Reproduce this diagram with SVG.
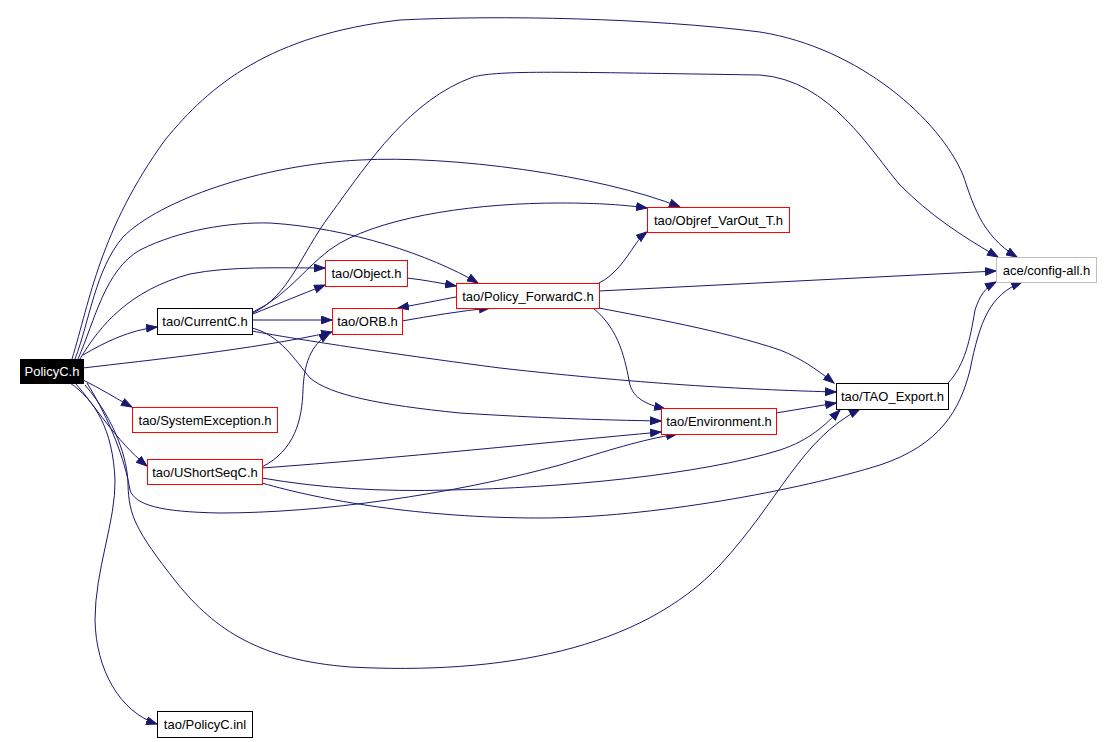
<svg xmlns="http://www.w3.org/2000/svg" width="1112" height="742" viewBox="0 0 1112 742">
<style>
.n rect{fill:#ffffff;stroke-width:1}
.n text{font-family:"Liberation Sans",Arial,sans-serif;font-size:13px;text-anchor:middle;fill:#000}
.red rect{stroke:#ff0000}
.blk rect{stroke:#000000}
.gry rect{stroke:#bfbfbf}
.e path{fill:none;stroke:#191970;stroke-width:1;marker-end:url(#arr)}
</style>
<defs>
<marker id="arr" markerWidth="12" markerHeight="9" refX="11" refY="4.5" orient="auto" markerUnits="userSpaceOnUse">
<path d="M0.5,0.7 L11,4.5 L0.5,8.3 z" fill="#191970" stroke="#191970" stroke-width="1"/>
</marker>
</defs>
<rect x="0" y="0" width="1112" height="742" fill="#ffffff"/>
<g id="edges" class="e">
<path d="M72,359 C90,300 100,230 165,140 C210,85 270,35 400,20 C500,15 650,18 760,32 C860,48 940,120 963,175 C972,200 980,235 1017,257"/>
<path d="M253,313 C290,295 300,255 330,215 C370,160 410,100 473,77 C500,70 560,72 760,75 C830,80 870,150 900,185 C930,215 960,235 998,257"/>
<path d="M75,359 C90,320 95,270 123,237 C160,200 260,165 360,160 C450,155 600,175 680,207"/>
<path d="M78,359 C95,320 105,270 140,250 C180,230 230,222 270,223 C350,228 430,255 478,283"/>
<path d="M80,359 C100,325 130,290 190,274 C230,266 280,268 325,268"/>
<path d="M83,355 C105,342 130,330 157,327"/>
<path d="M83,368 C150,360 250,350 332,332"/>
<path d="M83,380 C100,388 115,398 132,407"/>
<path d="M75,383 C95,405 115,440 147,466"/>
<path d="M87,383 C110,420 125,460 130,490 C135,505 160,512 220,513 C320,513 450,495 560,465 C610,450 640,440 677,434"/>
<path d="M85,385 C115,420 128,460 128,485 C129,515 135,530 177,583 C215,630 260,660 350,667 C500,675 640,650 720,565 C780,500 800,440 860,409"/>
<path d="M70,383 C95,400 113,430 115,480 C116,520 95,570 95,620 C96,670 120,712 157,724"/>
<path d="M253,314 C275,305 300,295 325,285"/>
<path d="M252,320 L332,320"/>
<path d="M253,312 C290,295 310,260 340,243 C390,215 480,203 560,203 C600,203 625,205 647,208"/>
<path d="M252,331 C300,340 400,355 500,368 C650,385 760,390 836,392"/>
<path d="M252,328 C280,335 295,360 310,378 C330,395 380,405 460,413 C540,418 600,420 661,421"/>
<path d="M407,278 C425,280 440,283 456,286"/>
<path d="M402,321 C430,316 460,311 490,308"/>
<path d="M456,297 C440,300 420,304 398,308"/>
<path d="M599,283 C615,275 625,260 635,245 C640,238 643,235 647,232"/>
<path d="M599,291 L996,271"/>
<path d="M599,308 C650,318 720,330 780,350 C800,358 815,368 834,383"/>
<path d="M593,308 C620,330 625,360 630,385 C634,398 645,404 665,409"/>
<path d="M776,413 L836,403"/>
<path d="M948,383 C965,365 970,340 975,310 C980,295 985,288 996,282"/>
<path d="M262,467 C295,450 302,420 303,390 C304,365 310,345 330,333"/>
<path d="M262,468 C400,458 550,442 661,432"/>
<path d="M262,478 C320,488 380,492 450,490 C560,488 700,475 780,450 C810,440 825,425 840,410"/>
<path d="M262,483 C320,500 420,518 540,518 C650,518 800,490 880,465 C940,445 960,410 970,370 C980,320 990,295 1022,282"/>
</g>
<g id="n_policyc_h" class="n"><rect x="20.5" y="359.5" width="63" height="24" style="fill:#000;stroke:#000"/><text x="52" y="376" style="fill:#fff">PolicyC.h</text></g>
<g id="n_currentc" class="n blk"><rect x="157.5" y="308.5" width="95" height="26"/><text x="205" y="326">tao/CurrentC.h</text></g>
<g id="n_orb" class="n red"><rect x="332.5" y="308.5" width="70" height="26"/><text x="367.5" y="326">tao/ORB.h</text></g>
<g id="n_sysexc" class="n red"><rect x="132.5" y="407.5" width="145" height="25"/><text x="205" y="424.5">tao/SystemException.h</text></g>
<g id="n_ushortseq" class="n red"><rect x="147.5" y="459.5" width="115" height="25"/><text x="205" y="476.5">tao/UShortSeqC.h</text></g>
<g id="n_object" class="n red"><rect x="325.5" y="260.5" width="82" height="26"/><text x="366.5" y="278">tao/Object.h</text></g>
<g id="n_polfwd" class="n red"><rect x="456.5" y="283.5" width="143" height="25"/><text x="528" y="300.5">tao/Policy_ForwardC.h</text></g>
<g id="n_objref" class="n red"><rect x="647.5" y="207.5" width="142" height="25"/><text x="718.5" y="224.5">tao/Objref_VarOut_T.h</text></g>
<g id="n_config" class="n gry"><rect x="996.5" y="257.5" width="100" height="25"/><text x="1046.5" y="274.5">ace/config-all.h</text></g>
<g id="n_taoexport" class="n blk"><rect x="836.5" y="383.5" width="112" height="26"/><text x="892.5" y="401">tao/TAO_Export.h</text></g>
<g id="n_env" class="n red"><rect x="661.5" y="408.5" width="115" height="26"/><text x="719" y="426">tao/Environment.h</text></g>
<g id="n_inl" class="n blk"><rect x="157.5" y="711.5" width="95" height="26"/><text x="205" y="729">tao/PolicyC.inl</text></g>
</svg>
